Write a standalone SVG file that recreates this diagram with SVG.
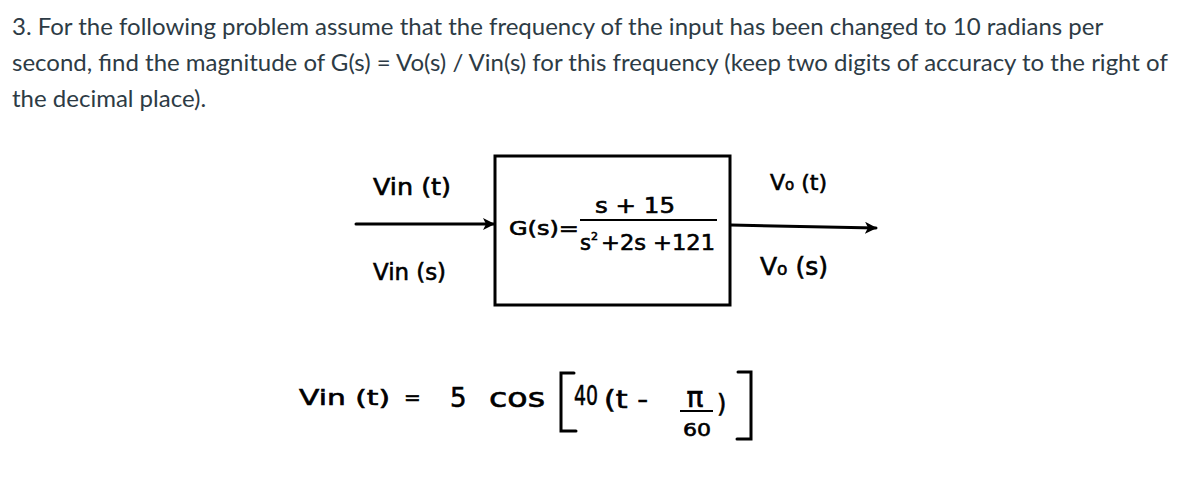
<svg xmlns="http://www.w3.org/2000/svg" width="1179" height="494" viewBox="0 0 1179 494">
<defs>
<style>
.q{font-family:Lato,"Open Sans","Liberation Sans",sans-serif;font-size:24px;fill:#2d3b45}
.h{font-family:"DejaVu Sans","Liberation Sans",sans-serif;fill:#000;stroke:#000;stroke-width:0.6}
.ln{stroke:#000;stroke-width:3;fill:none;stroke-linecap:round}
</style>
<marker id="ah" viewBox="0 0 12 12" refX="11" refY="6" markerWidth="12" markerHeight="12" markerUnits="userSpaceOnUse" orient="auto">
<path d="M0,0 L12,6 L0,12 L3,6 Z" fill="#000"/>
</marker>
</defs>
<rect width="1179" height="494" fill="#fff"/>
<g id="question">
<text class="q" x="12" y="35">3. For the following problem assume that the frequency of the input has been changed to 10 radians per</text>
<text class="q" x="12" y="71">second, find the magnitude of G(s) = Vo(s) / Vin(s) for this frequency (keep two digits of accuracy to the right of</text>
<text class="q" x="12" y="107">the decimal place).</text>
</g>
<g id="connectors">
<path class="ln" d="M356,224 L494,224" marker-end="url(#ah)"/>
<path class="ln" d="M731,225 L876,228" marker-end="url(#ah)"/>
</g>
<g id="block">
<rect class="ln" x="495" y="156" width="235" height="149"/>
<text class="h" x="509" y="235" style="font-size:19px" textLength="70" lengthAdjust="spacingAndGlyphs">G(s)=</text>
<text class="h" x="595" y="213" style="font-size:21px" textLength="80" lengthAdjust="spacingAndGlyphs">s + 15</text>
<line x1="580" y1="220" x2="717" y2="220" stroke="#000" stroke-width="2"/>
<text class="h" x="580" y="250" style="font-size:21px">s<tspan style="font-size:11px" dy="-10">2</tspan></text>
<text class="h" x="601" y="250" style="font-size:21px" textLength="114" lengthAdjust="spacingAndGlyphs">+2s +121</text>
</g>
<g id="input-labels">
<text class="h" x="373" y="195" style="font-size:23px" textLength="78" lengthAdjust="spacingAndGlyphs">Vin (t)</text>
<text class="h" x="373" y="280" style="font-size:23px" textLength="73" lengthAdjust="spacingAndGlyphs">Vin (s)</text>
</g>
<g id="output-labels">
<text class="h" x="770" y="190" style="font-size:22px">V<tspan style="font-size:15px">o</tspan> (t)</text>
<text class="h" x="760" y="275" style="font-size:25px">V<tspan style="font-size:17px">o</tspan> (s)</text>
</g>
<g id="equation">
<text class="h" x="299" y="405" style="font-size:22px" textLength="91" lengthAdjust="spacingAndGlyphs">Vin (t)</text>
<text class="h" x="404" y="404" style="font-size:20px">=</text>
<text class="h" x="450" y="407" style="font-size:26px">5</text>
<text class="h" x="489" y="407" style="font-size:26px" textLength="56" lengthAdjust="spacingAndGlyphs">cos</text>
<path class="ln" d="M574,373 L561,373 L561,431 L576,431"/>
<text class="h" x="574" y="405" style="font-size:26px" textLength="24" lengthAdjust="spacingAndGlyphs">40</text>
<text class="h" x="604" y="408" style="font-size:24px" textLength="44" lengthAdjust="spacingAndGlyphs">(t -</text>
<text class="h" x="695" y="407" style="font-size:28px" text-anchor="middle">π</text>
<line x1="680" y1="411" x2="713" y2="411" stroke="#000" stroke-width="2"/>
<text class="h" x="697" y="436" style="font-size:18px" text-anchor="middle" textLength="28" lengthAdjust="spacingAndGlyphs">60</text>
<text class="h" x="717" y="412" style="font-size:24px">)</text>
<path class="ln" d="M738,372 L751,372 L751,439 L737,439"/>
</g>
</svg>
